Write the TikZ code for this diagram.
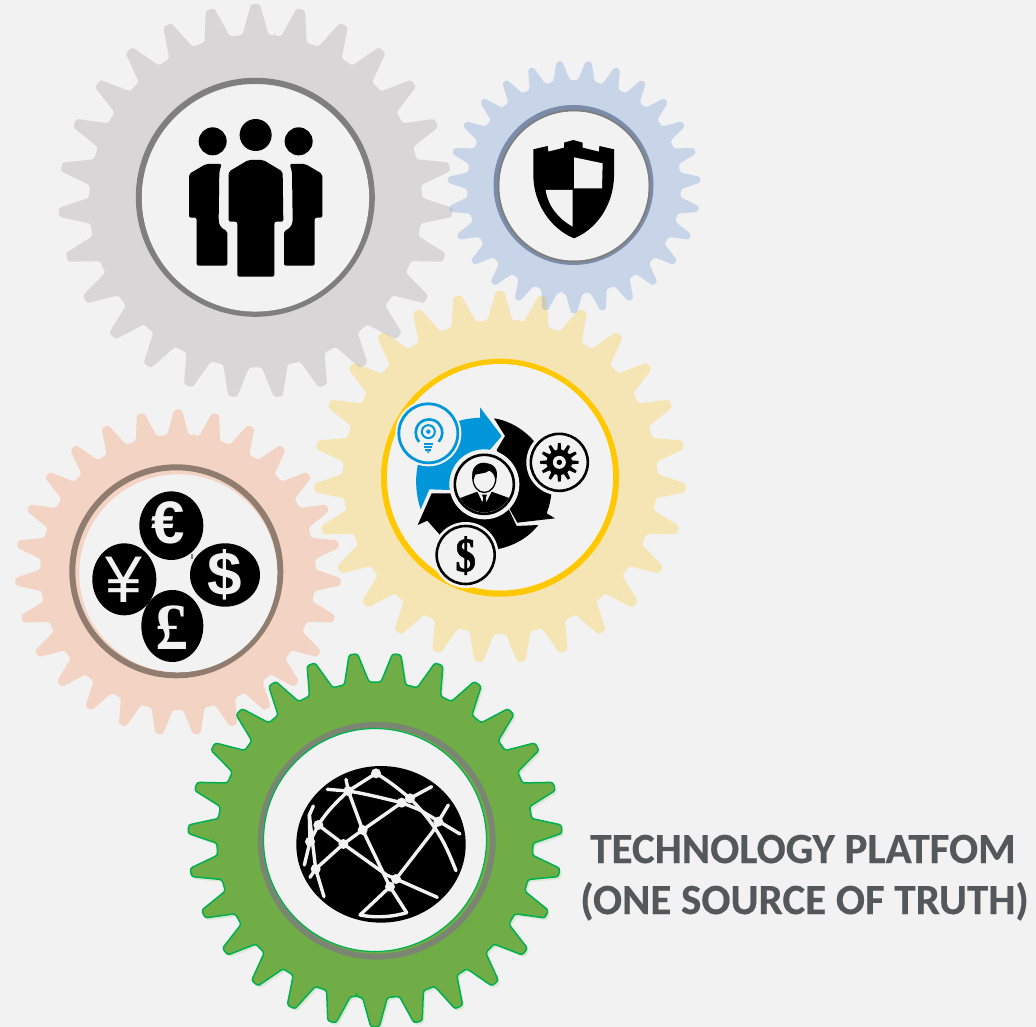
\documentclass[tikz,border=0pt]{standalone}
\usepackage{fontspec}
\setmainfont{Carlito}
\newfontfamily\titlef{Carlito}[BoldFeatures={FakeBold=0.35}]
\newfontfamily\symf{Liberation Sans}
\newfontfamily\serf{Liberation Serif}
\newfontfamily\serh{Liberation Serif}[BoldFeatures={FakeBold=1.5}]
\definecolor{bgc}{HTML}{F2F2F2}
\definecolor{grayg}{HTML}{8E8686}
\definecolor{blueg}{HTML}{4E82D2}
\definecolor{yellowg}{HTML}{FFC000}
\definecolor{pinkg}{HTML}{F67A3C}
\definecolor{greeng}{HTML}{70AD47}
\definecolor{greene}{HTML}{00B050}
\definecolor{greens}{HTML}{DCE6D4}
\definecolor{ringgray}{HTML}{7F7F7F}
\definecolor{ringblue}{HTML}{7B8CA8}
\definecolor{ringyellow}{HTML}{FFC800}
\definecolor{ringbrown}{HTML}{917D6F}
\definecolor{ringgreen}{HTML}{7A8672}
\definecolor{procblue}{HTML}{0096D9}
\definecolor{txtc}{HTML}{54585B}
\tikzset{
  softgear/.style={fill opacity=0.25,rounded corners=2.5pt},
  zoomed/.style={x=0.33333pt,y=-0.33333pt},
  globeline/.style={draw=bgc,line width=3.4pt,line cap=round,line join=round},
  symtxt/.style={text=bgc,inner sep=0pt},
  titletxt/.style={text=txtc,inner sep=0pt,anchor=base,font=\titlef\bfseries\fontsize{43}{43}\selectfont},
  halo/.style={fill=bgc},
}
\newcommand{\gearshape}[4]{% cx cy R phase
  ({#1+#3*0.845*cos(#4-6.6667)},{#2-#3*0.845*sin(#4-6.6667)})
  \foreach \k [evaluate=\k as \a using {#4+\k*13.33333}] in {0,...,26} {
    -- ({#1+#3*0.845*cos(\a-4.5)},{#2-#3*0.845*sin(\a-4.5)})
    -- ({#1+#3*0.93*cos(\a-2.6)},{#2-#3*0.93*sin(\a-2.6)})
    -- ({#1+#3*cos(\a-1.3)},{#2-#3*sin(\a-1.3)})
    -- ({#1+#3*cos(\a+1.3)},{#2-#3*sin(\a+1.3)})
    -- ({#1+#3*0.93*cos(\a+2.6)},{#2-#3*0.93*sin(\a+2.6)})
    -- ({#1+#3*0.845*cos(\a+4.5)},{#2-#3*0.845*sin(\a+4.5)})
    -- ({#1+#3*0.845*cos(\a+6.6667)},{#2-#3*0.845*sin(\a+6.6667)})
  } -- cycle}
\begin{document}
\begin{tikzpicture}[x=1pt,y=-1pt]
\useasboundingbox (0,0) rectangle (1036,1027);
\fill[bgc] (0,0) rectangle (1036,1027);

% soft gears
\fill[softgear,yellowg] \gearshape{500}{477}{186}{90};
\fill[softgear,blueg] \gearshape{574}{187}{126.5}{-90};
\fill[softgear,grayg] \gearshape{255.5}{201}{197}{90};
\fill[softgear,pinkg] \gearshape{178}{572.3}{163}{90};
% green gear
\fill[greens,rounded corners=2.5pt] \gearshape{377}{842.5}{187}{-90};
\filldraw[fill=greeng,draw=greene,line width=1.5pt,rounded corners=2.5pt] \gearshape{375}{840}{187}{-90};

% rings and disks
\draw[ringgray,line width=6pt] (255.3,197.3) circle[radius=116.5pt];
\fill[bgc] (255.5,198) circle[radius=113.6pt];

\draw[ringblue,line width=5pt] (573.5,185) circle[radius=77.5pt];
\draw[ringgray,line width=2pt] (574,186) circle[radius=75.5pt];
\fill[bgc] (574,186) circle[radius=74.5pt];

\draw[ringyellow,line width=6pt] (500,477.7) circle[radius=116pt];
\fill[bgc] (500,477) circle[radius=113pt];

\draw[ringbrown,line width=6pt] (176.3,571.3) circle[radius=104pt];
\fill[bgc] (178.3,573.3) circle[radius=99pt];

\draw[ringgreen,line width=6pt] (376.7,840.7) circle[radius=116pt];
\filldraw[fill=bgc,draw=greene,line width=1.2pt] (375,840) circle[radius=111.5pt];

% people
\begin{scope}[shift={(130,70)},zoomed]
\fill (377,195) circle[radius=16pt];
\fill (248,214) circle[radius=14pt];
\fill (506,214) circle[radius=14pt];
\fill[rounded corners=2pt] (355,270) -- (400,270) -- (458,305) -- (460,455) -- (433,455) -- (433,620) -- (322,620) -- (322,455) -- (296,455) -- (296,305) -- cycle;
\fill[rounded corners=2pt] (228,282) -- (275,282) -- (268,305) -- (266,450) .. controls (268,470) and (280,478) .. (292,483) -- (292,587) -- (200,587) -- (200,443) -- (177,443) -- (177,312) -- cycle;
\fill[rounded corners=2pt] (526,282) -- (479,282) -- (486,305) -- (488,450) .. controls (486,470) and (474,478) .. (462,483) -- (462,587) -- (554,587) -- (554,443) -- (577,443) -- (577,312) -- cycle;
\end{scope}

% shield
\begin{scope}[shift={(480,100)},zoomed]
\fill (160,148) -- (203,138) -- (205,155) -- (252,143) -- (252,128) -- (280,120) -- (308,128) -- (308,143) -- (357,155) -- (358,138) -- (402,148) -- (402,230) .. controls (400,310) and (355,385) .. (282,415) .. controls (210,385) and (162,310) .. (160,230) -- cycle;
\fill[bgc] (282,172) -- (368,190) -- (366,265) -- (282,265) -- cycle;
\fill[bgc] (197,270) -- (278,270) -- (278,380) .. controls (235,355) and (205,320) .. (197,270) -- cycle;
\end{scope}

% process icon
\begin{scope}[shift={(370,350)},zoomed]
\fill[procblue] (152,478) .. controls (125,400) and (135,290) .. (210,240) .. controls (250,212) and (290,205) .. (330,203) -- (330,172) -- (395,258) -- (355,305) -- (300,320) -- (240,420) -- (178,418) -- cycle;
\fill (372,205) .. controls (440,215) and (510,270) .. (535,350) .. controls (552,405) and (545,450) .. (530,490) -- (555,505) -- (442,518) -- (415,470) -- (430,400) -- (380,300) -- (405,258) -- cycle;
\fill (143,525) -- (185,430) -- (260,430) -- (415,475) -- (440,528) -- (505,525) .. controls (470,570) and (420,590) .. (385,597) -- (270,590) -- (210,555) -- (172,512) -- cycle;
% bulb circle
\fill[halo] (175,250) circle[radius=33pt];
\draw[procblue,line width=2.8pt] (175,250) circle[radius=29.5pt];
\draw[procblue,line width=2.6pt] (147.7,275.3) arc[start angle=137,end angle=403,radius=40];
\draw[procblue,line width=2pt] (175,245) circle[radius=6.5pt];
\fill[procblue] (175,245) circle[radius=2.2pt];
\draw[procblue,line width=1.8pt] (161,281) -- (189,281) (163,290) -- (187,290) (166,299) -- (184,299);
\fill[procblue] (170,304) -- (180,304) -- (175,310) -- cycle;
% person circle
\fill[halo] (343,403) circle[radius=35pt];
\begin{scope}
\clip (343,403) circle[radius=28pt];
\fill (268,445) -- (322,425) -- (343,470) -- (365,425) -- (420,445) -- (420,500) -- (268,500) -- cycle;
\fill (336,434) -- (351,434) -- (347,445) -- (353,470) -- (345,490) -- (333,470) -- (340,445) -- cycle;
\end{scope}
\draw[line width=1.3pt,fill=bgc] (343,384) ellipse[x radius=11.5pt,y radius=14.5pt];
\fill (310,392) .. controls (296,350) and (330,332) .. (350,340) .. controls (378,342) and (388,368) .. (376,394) .. controls (375,378) and (370,368) .. (358,362) .. controls (345,372) and (325,370) .. (316,374) -- cycle;
\draw[line width=2.6pt] (343,403) circle[radius=29.5pt];
% gear circle
\fill[halo] (568,337) circle[radius=33pt];
\draw[line width=2.6pt] (568,337) circle[radius=28.5pt];
\fill ({568+38*cos(-9)},{337-38*sin(-9)})
  \foreach \k [evaluate=\k as \a using {\k*30}] in {0,...,11} {
  -- ({568+38*cos(\a-9)},{337-38*sin(\a-9)}) -- ({568+58*cos(\a-4)},{337-58*sin(\a-4)}) -- ({568+58*cos(\a+4)},{337-58*sin(\a+4)}) -- ({568+38*cos(\a+9)},{337-38*sin(\a+9)})
} -- cycle;
\fill[bgc] (568,337) circle[radius=6.5pt];
\fill (568,337) circle[radius=2.7pt];
% dollar circle
\fill[halo] (287,615) circle[radius=33pt];
\draw[line width=2.6pt] (287,615) circle[radius=29pt];
\node[inner sep=0pt,xscale=0.85,font=\serh\bfseries\fontsize{48}{48}\selectfont] (procdollar) at (287,617) {\$};
\end{scope}

% money icon
\begin{scope}[shift={(60,460)},zoomed]
\fill (334,197) ellipse[x radius=32pt,y radius=34.3pt];
\fill (193,358) ellipse[x radius=32pt,y radius=36pt];
\fill (495,345) ellipse[x radius=35pt,y radius=31.7pt];
\fill (337,498) ellipse[x radius=31pt,y radius=36pt];
\fill[ringgray] (394,283) rectangle (398,296);
\node[symtxt,font=\symf\bfseries\fontsize{60}{60}\selectfont] (euro) at (324,190) {€};
\node[symtxt,font=\symf\fontsize{66}{66}\selectfont] (yen) at (191,360) {¥};
\node[symtxt,font=\symf\bfseries\fontsize{62}{62}\selectfont] (dollar) at (495,345) {\$};
\node[symtxt,font=\serf\bfseries\fontsize{66}{66}\selectfont] (pound) at (337,503) {£};
\end{scope}

% globe
\begin{scope}[shift={(250,720)},zoomed]
\fill (393,373) ellipse[x radius=84.7pt,y radius=78.3pt];
\draw[globeline] (232,208) -- (295,213) .. controls (350,222) and (400,235) .. (455,248) -- (510,270) -- (630,342);
\draw[globeline] (288,178) -- (295,213) -- (338,330) -- (410,480) -- (420,500) -- (470,578);
\draw[globeline] (295,213) -- (378,160) .. controls (420,185) and (450,210) .. (480,235) .. controls (510,265) and (540,300) .. (565,340) .. controls (590,380) and (605,420) .. (618,452);
\draw[globeline] (545,200) -- (480,235);
\draw[globeline] (595,255) -- (565,305) -- (548,335) -- (438,477) -- (562,532);
\draw[globeline] (280,372) -- (410,465) -- (438,477);
\draw[globeline] (295,213) .. controls (260,245) and (230,275) .. (205,315) -- (280,372);
\draw[globeline] (280,372) -- (338,330) -- (455,248);
\draw[globeline] (280,372) -- (197,447) -- (180,472);
\draw[globeline] (190,258) -- (178,285) -- (180,365) -- (163,435);
\draw[globeline] (178,285) -- (197,447) -- (222,530);
\draw[globeline] (205,315) -- (180,365);
\draw[globeline] (420,500) -- (330,585) .. controls (380,595) and (430,590) .. (470,578);
\foreach \p in {(378,160),(295,213),(205,315),(280,372),(338,330),(455,248),(480,235),(565,305),(438,477),(420,500),(197,447),(180,365)}
  \fill[bgc] \p circle[radius=5pt];
\end{scope}

% caption
\node[titletxt] (title1) at (803,863) {TECHNOLOGY PLATFOM};
\node[titletxt] (title2) at (804.5,914) {(ONE SOURCE OF TRUTH)};
\end{tikzpicture}
\end{document}
